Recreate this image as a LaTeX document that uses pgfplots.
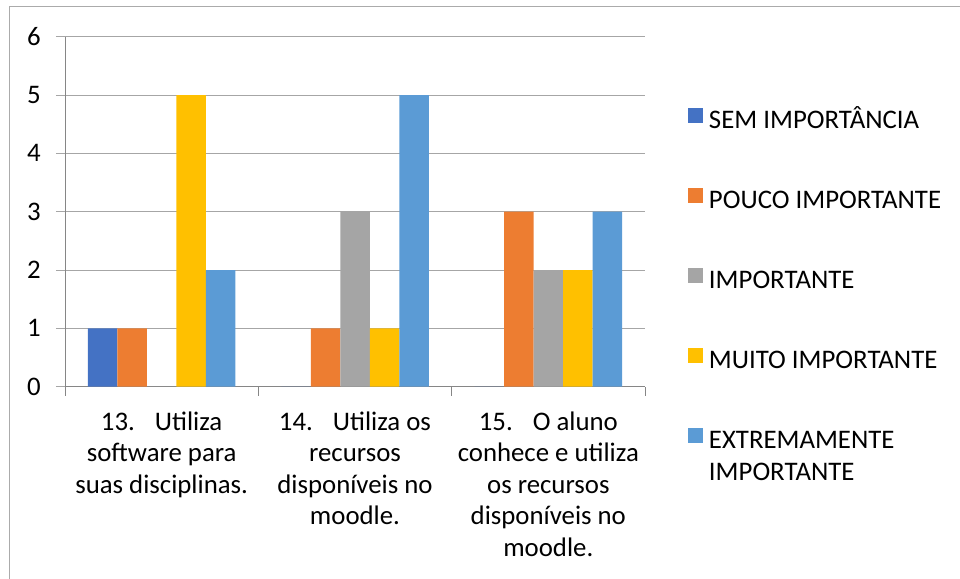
\documentclass[border=0pt]{standalone}
\usepackage{pgfplots}
\pgfplotsset{compat=1.18}
\usepackage{fontspec}
\setmainfont{Carlito}
\definecolor{c1}{HTML}{4472C4}
\definecolor{c2}{HTML}{ED7D31}
\definecolor{c3}{HTML}{A5A5A5}
\definecolor{c4}{HTML}{FFC000}
\definecolor{c5}{HTML}{5B9BD5}
\definecolor{gridc}{HTML}{A6A6A6}
\definecolor{axisc}{HTML}{868686}
\definecolor{borderc}{HTML}{ABABAB}
\begin{document}
\begin{tikzpicture}
\useasboundingbox (0,0) rectangle (960pt,578pt);
\draw[borderc, line width=1pt] (9pt,-5pt) -- (9pt,571.3pt) -- (970pt,571.3pt);
\begin{axis}[
 at={(65pt,191.3pt)}, anchor=south west,
 scale only axis, width=580pt, height=350pt,
 xmin=-0.5, xmax=2.5, ymin=0, ymax=6,
 ybar=0pt, bar width=29.5pt,
 axis x line*=bottom, axis y line*=left,
 axis line style={axisc, line width=1pt},
 ytick={0,1,2,3,4,5,6},
 ymajorgrids, major grid style={gridc, line width=1pt},
 xtick={0,1,2},
 xticklabels={{\strut 13.\hspace{20pt}Utiliza\\\strut software para\\\strut suas disciplinas.},
   {\strut 14.\hspace{20pt}Utiliza os\\\strut recursos\\\strut disponíveis no\\\strut moodle.},
   {\strut 15.\hspace{20pt}O aluno\\\strut conhece e utiliza\\\strut os recursos\\\strut disponíveis no\\\strut moodle.}},
 xtick style={draw=none},
 ytick style={gridc, line width=1pt},
 tick align=outside, major tick length=9pt,
 extra x ticks={-0.5,0.5,1.5,2.5}, extra x tick labels={},
 extra x tick style={xtick style={draw=axisc, line width=1pt}, xmajorgrids=false},
 /pgf/number format/assume math mode=true,
 tick label style={font=\fontsize{26.8}{31.6}\selectfont, text=black},
 yticklabel style={inner sep=0pt, anchor=east, xshift=-15pt},
 xticklabel style={align=center, anchor=north, inner sep=0pt, yshift=-12pt},
 legend style={draw=none, fill=none, at={(rel axis cs:1.0741,0.8077)}, anchor=north west,
   inner sep=0pt, outer sep=0pt, row sep=52pt, column sep=4pt,
   font=\fontsize{26.8}{32}\selectfont, cells={anchor=west, inner sep=0pt, align=left}},
]
\addplot[fill=c1, draw=none, legend image code/.code={\fill[c1] (0pt,-5.5pt) rectangle (15pt,9.5pt);}] coordinates {(0,1) (1,0) (2,0)};
\addplot[fill=c2, draw=none, legend image code/.code={\fill[c2] (0pt,-5.5pt) rectangle (15pt,9.5pt);}] coordinates {(0,1) (1,1) (2,3)};
\addplot[fill=c3, draw=none, legend image code/.code={\fill[c3] (0pt,-5.5pt) rectangle (15pt,9.5pt);}] coordinates {(0,0) (1,3) (2,2)};
\addplot[fill=c4, draw=none, legend image code/.code={\fill[c4] (0pt,-5.5pt) rectangle (15pt,9.5pt);}] coordinates {(0,5) (1,1) (2,2)};
\addplot[fill=c5, draw=none, legend image code/.code={\fill[c5] (0pt,10.5pt) rectangle (15pt,25.5pt);}] coordinates {(0,2) (1,5) (2,3)};
\legend{\strut SEM IMPORTÂNCIA, \strut POUCO IMPORTANTE, \strut IMPORTANTE, \strut MUITO IMPORTANTE, {\strut EXTREMAMENTE\\\strut IMPORTANTE}}
\end{axis}
\end{tikzpicture}
\end{document}
